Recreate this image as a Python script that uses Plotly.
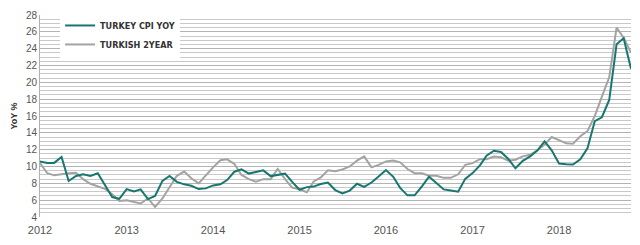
import pandas as pd
import plotly.graph_objects as go

dates = pd.date_range("2012-01-01", periods=83, freq="MS")

cpi_yoy = [
    10.61, 10.43, 10.43, 11.14, 8.28, 8.87, 9.07, 8.88, 9.19, 7.80, 6.37, 6.16,
    7.31, 7.03, 7.29, 6.13, 6.51, 8.30, 8.88, 8.17, 7.88, 7.71, 7.32, 7.40,
    7.75, 7.89, 8.39, 9.38, 9.66, 9.16, 9.32, 9.54, 8.86, 8.96, 9.15, 8.17,
    7.24, 7.55, 7.61, 7.91, 8.09, 7.20, 6.81, 7.14, 7.95, 7.58, 8.10, 8.81,
    9.58, 8.78, 7.46, 6.57, 6.58, 7.64, 8.79, 8.05, 7.28, 7.16, 7.00, 8.53,
    9.22, 10.13, 11.29, 11.87, 11.72, 10.90, 9.79, 10.68, 11.20, 11.90, 12.98, 11.92,
    10.35, 10.26, 10.23, 10.85, 12.15, 15.39, 15.85, 17.90, 24.52, 25.24, 21.62,
]

turkish_2year = [
    10.4, 9.2, 8.95, 9.1, 9.2, 9.25, 8.5, 7.95, 7.65, 7.35, 6.7, 5.9,
    6.0, 5.8, 5.6, 6.2, 5.2, 6.2, 7.5, 8.9, 9.4, 8.6, 8.0, 9.0,
    9.9, 10.75, 10.85, 10.3, 9.0, 8.5, 8.2, 8.5, 8.5, 9.7, 8.5, 7.5,
    7.3, 6.95, 8.2, 8.7, 9.55, 9.45, 9.65, 10.0, 10.7, 11.2, 9.9, 10.2,
    10.6, 10.7, 10.5, 9.7, 9.2, 9.2, 8.9, 8.9, 8.65, 8.65, 9.07, 10.2,
    10.4, 10.87, 10.87, 11.18, 11.1, 10.7, 10.8, 11.2, 11.4, 11.9, 12.6, 13.5,
    13.15, 12.75, 12.7, 13.6, 14.2, 16.0, 18.3, 20.6, 26.5, 25.3, 23.5,
]

series_names = ["TURKEY CPI YOY", "TURKISH 2YEAR"]
year_ticks = [f"{y}-01-01" for y in range(2012, 2019)]
year_labels = [str(y) for y in range(2012, 2019)]
y_ticks = list(range(4, 29, 2))

fig = go.Figure()
fig.add_trace(go.Scatter(
    x=dates, y=turkish_2year, mode="lines", name=f"<b>{series_names[1]}</b>",
    line=dict(color="#a3a3a3", width=2), legendrank=2,
))
fig.add_trace(go.Scatter(
    x=dates, y=cpi_yoy, mode="lines", name=f"<b>{series_names[0]}</b>",
    line=dict(color="#15776f", width=2), legendrank=1,
))

for t in year_ticks[1:]:
    fig.add_shape(type="line", xref="x", yref="paper", x0=t, x1=t, y0=0, y1=1,
                  line=dict(color="white", width=2), layer="between")

fig.update_layout(
    width=640, height=245,
    margin=dict(l=40, r=9, t=10, b=26),
    paper_bgcolor="white", plot_bgcolor="white",
    font=dict(family="Liberation Sans, Arial, sans-serif", color="#555555", size=10),
    showlegend=True,
    legend=dict(
        x=0.034, y=1.02, xanchor="left", yanchor="top",
        bgcolor="white", borderwidth=0,
        font=dict(size=9, color="#333333",
                  family="Liberation Sans Narrow, DejaVu Sans Condensed, Arial Narrow, sans-serif"),
        itemwidth=30, tracegroupgap=0,
    ),
    xaxis=dict(
        range=["2012-01-01", "2018-11-01"],
        tickvals=year_ticks, ticktext=year_labels,
        showgrid=False, zeroline=False, showline=False,
        ticks="", ticklabelstandoff=5, tickfont=dict(size=11, color="#555555"),
    ),
    yaxis=dict(
        range=[4, 28], tickvals=y_ticks,
        showgrid=True, gridcolor="#b3b3b3", gridwidth=1,
        minor=dict(dtick=0.5, showgrid=True, gridcolor="#c9c9c9", gridwidth=1),
        zeroline=False, showline=True, linecolor="#b0b0b0", linewidth=1,
        ticks="", tickfont=dict(size=10, color="#555555"),
        title=dict(text="<b>YoY %</b>", font=dict(size=9, color="#333333"), standoff=6),
    ),
)

fig.write_html("out.html")
